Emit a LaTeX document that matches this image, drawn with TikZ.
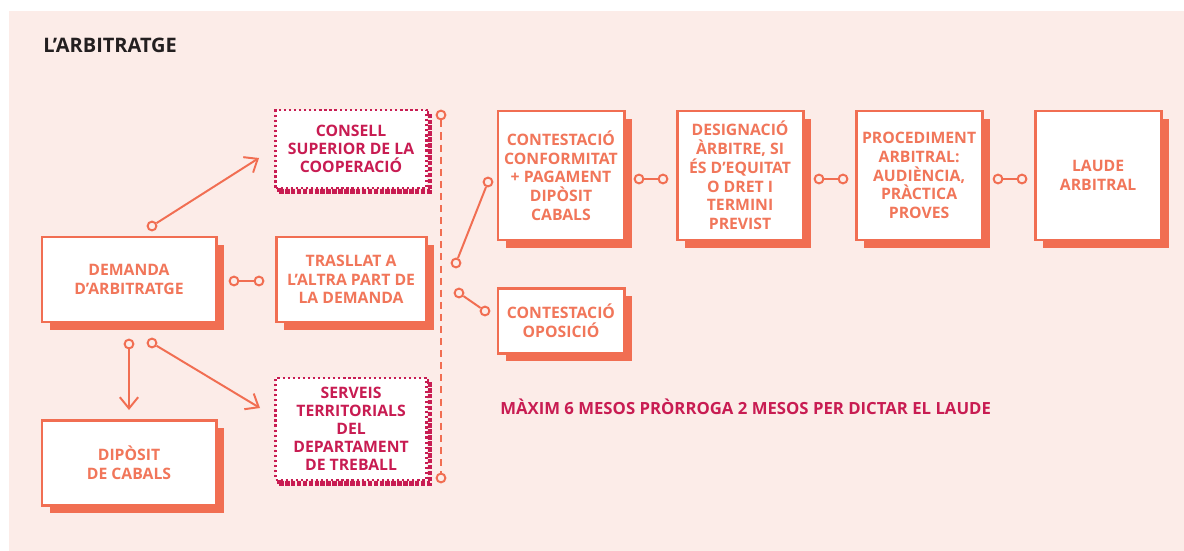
\documentclass[tikz,border=0pt]{standalone}
\usepackage{fontspec}
\setmainfont{Open Sans}
\usetikzlibrary{arrows.meta, positioning, shadows}
\definecolor{coral}{RGB}{241,110,82}
\definecolor{coraltext}{RGB}{241,118,90}
\definecolor{berry}{RGB}{200,28,82}
\definecolor{bgpink}{RGB}{252,236,232}
\definecolor{titlegray}{RGB}{35,31,32}

\begin{document}
\begin{tikzpicture}[
    x=0.025cm, y=-0.025cm,
    box/.style={draw=coral, line width=2.1pt, fill=white, rectangle, align=center, inner sep=0pt, outer sep=0pt,
        text=coraltext, font=\fontsize{11.2}{13.3}\selectfont\bfseries,
        drop shadow={shadow xshift=0.2cm, shadow yshift=-0.2cm, fill=coral, opacity=1}},
    dotbox/.style={draw=berry, dotted, line width=1.6pt, fill=white, rectangle, align=center, inner sep=0pt, outer sep=0pt,
        text=berry, font=\fontsize{11.2}{12.8}\selectfont\bfseries,
        general shadow={shadow xshift=0.09cm, shadow yshift=-0.09cm, fill=none, draw=berry, line width=3.2pt, densely dotted}},
    dot/.style={circle, draw=coral, line width=1.4pt, fill=bgpink, minimum size=0.22cm, inner sep=0pt},
    link/.style={draw=coral, line width=1.4pt},
    arrow/.style={link, -{Straight Barb[length=8pt, width=13pt, line width=1.4pt]}},
    dashline/.style={link, dash pattern=on 5pt off 3.6pt}
]

% fons
\useasboundingbox (0,0) rectangle (1184,551);
\fill[white] (0,0) rectangle (1184,551);
\fill[bgpink] (9,11) rectangle (1184,551);

% titol i nota
\node[anchor=west, inner sep=0pt, text=titlegray, font=\fontsize{14.2}{16}\selectfont\bfseries] (titol) at (43,45) {L’ARBITRATGE};
\node[anchor=west, inner sep=0pt, text=berry, font=\fontsize{11.9}{14}\selectfont\bfseries] (termini) at (500,407) {MÀXIM 6 MESOS PRÒRROGA 2 MESOS PER DICTAR EL LAUDE};

% bloc de la demanda
\node[box, minimum width=4.35cm, minimum height=2.125cm] (demanda) at (129,279.5) {DEMANDA\\D’ARBITRATGE};
\node[box, minimum width=3.75cm, minimum height=2.125cm, right=1.5cm of demanda] (trasllat) {TRASLLAT A\\L’ALTRA PART DE\\LA DEMANDA};
\node[dotbox, minimum width=3.775cm, minimum height=1.95cm, above=1.225cm of trasllat] (consell) {CONSELL\\SUPERIOR DE LA\\COOPERACIÓ};
\node[dotbox, minimum width=3.775cm, minimum height=2.55cm, below=1.4cm of trasllat] (serveis) {SERVEIS\\TERRITORIALS\\DEL\\DEPARTAMENT\\DE TREBALL};
\node[box, minimum width=4.35cm, minimum height=2.125cm, below=2.45cm of demanda] (diposit) {DIPÒSIT\\DE CABALS};

% tram de la contestacio
\node[box, minimum width=3.15cm, minimum height=3.225cm] (conformitat) at (561,175.5) {CONTESTACIÓ\\CONFORMITAT\\+ PAGAMENT\\DIPÒSIT\\CABALS};
\node[box, minimum width=3.15cm, minimum height=1.625cm, below=1.2cm of conformitat] (oposicio) {CONTESTACIÓ\\OPOSICIÓ};
\node[box, minimum width=3.15cm, minimum height=3.225cm, right=1.325cm of conformitat] (designacio) {DESIGNACIÓ\\ÀRBITRE, SI\\ÉS D’EQUITAT\\O DRET I\\TERMINI\\PREVIST};
\node[box, minimum width=3.15cm, minimum height=3.225cm, right=1.325cm of designacio] (procediment) {PROCEDIMENT\\ARBITRAL:\\AUDIÈNCIA,\\PRÀCTICA\\PROVES};
\node[box, minimum width=3.15cm, minimum height=3.225cm, right=1.325cm of procediment] (laude) {LAUDE\\ARBITRAL};

% punts d'unio
\node[dot] (dot1) at (234,281) {};
\node[dot] (dot2) at (259,281) {};
\node[dot] (dot3) at (152,226) {};
\node[dot] (dot4) at (129,344) {};
\node[dot] (dot5) at (152,343) {};
\node[dot] (top) at (441,115) {};
\node[dot] (bottom) at (441,478) {};
\node[dot] (dot6) at (456,263) {};
\node[dot] (dot7) at (488,182) {};
\node[dot] (dot8) at (459,293) {};
\node[dot] (dot9) at (485,311) {};
\node[dot] (dot10) at (639,179) {};
\node[dot] (dot11) at (663,179) {};
\node[dot] (dot12) at (819,179) {};
\node[dot] (dot13) at (843,179) {};
\node[dot] (dot14) at (998,179) {};
\node[dot] (dot15) at (1022,179) {};
\coordinate (tip1) at (259,158);
\coordinate (tip2) at (129,410);
\coordinate (tip3) at (260,408);

% connexions
\draw[link] (dot1) -- (dot2);
\draw[arrow] (dot3) -- (tip1);
\draw[arrow] (dot4) -- (tip2);
\draw[arrow] (dot5) -- (tip3);
\draw[dashline] (top) -- (bottom);
\draw[link] (dot6) -- (dot7);
\draw[link] (dot8) -- (dot9);
\draw[link] (dot10) -- (dot11);
\draw[link] (dot12) -- (dot13);
\draw[link] (dot14) -- (dot15);

\end{tikzpicture}
\end{document}
